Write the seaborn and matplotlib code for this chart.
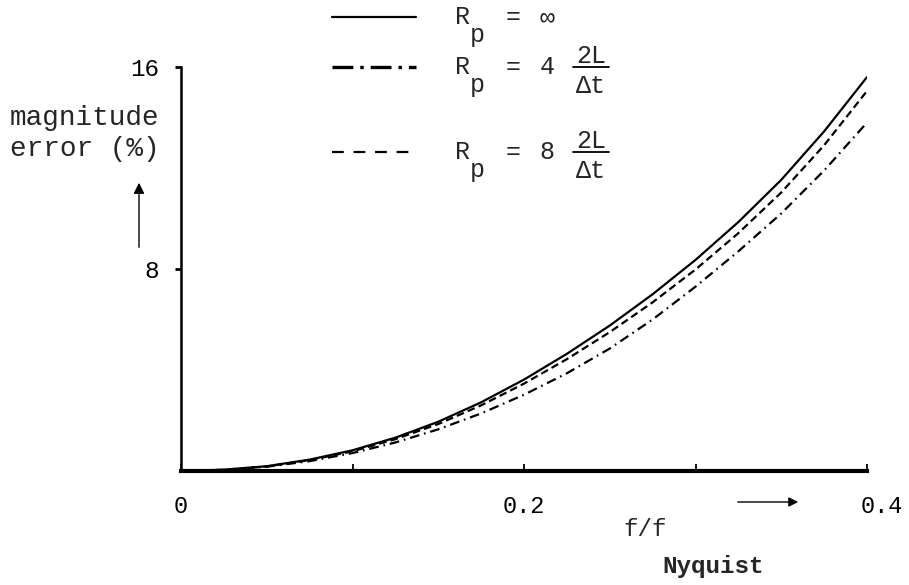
import numpy as np
import pandas as pd
import matplotlib
matplotlib.use("Agg")
import matplotlib.pyplot as plt
import matplotlib.transforms as mtransforms
from matplotlib.lines import Line2D
import seaborn as sns

# ---- data ----
freq = [0, 0.025, 0.05, 0.075, 0.1, 0.125, 0.15, 0.175, 0.2,
        0.225, 0.25, 0.275, 0.3, 0.325, 0.35, 0.375, 0.4]
err_inf = [0, 0.05, 0.19, 0.45, 0.82, 1.32, 1.95, 2.72, 3.62,
           4.64, 5.76, 7.0, 8.36, 9.86, 11.53, 13.45, 15.6]
err_8 = [0, 0.05, 0.18, 0.43, 0.78, 1.26, 1.86, 2.6, 3.46,
         4.43, 5.5, 6.68, 7.98, 9.42, 11.03, 12.9, 15.05]
err_4 = [0, 0.04, 0.17, 0.39, 0.71, 1.13, 1.65, 2.28, 3.02,
         3.87, 4.85, 6.0, 7.3, 8.7, 10.2, 11.9, 13.8]
series_keys = ["inf", "4", "8"]
x_ticks = [0, 0.2, 0.4]
x_tick_labels = ["0", "0.2", "0.4"]
x_minor = [0.1, 0.3]
y_ticks = [8, 16]
y_tick_labels = ["8", "16"]

sns.set_style("white")
plt.rcParams["font.family"] = ["Liberation Mono", "DejaVu Sans Mono", "DejaVu Sans"]
plt.rcParams["lines.scale_dashes"] = False

W, H = 909, 585
fig = plt.figure(figsize=(W / 100, H / 100), dpi=100)


def fx(px):
    return px / W


def fy(py):
    return 1 - py / H


ax = fig.add_axes([fx(181), fy(471), fx(867) - fx(181), fy(67) - fy(471)])

df = pd.concat([
    pd.DataFrame({"f": freq, "err": err_inf, "Rp": "inf"}),
    pd.DataFrame({"f": freq, "err": err_4, "Rp": "4"}),
    pd.DataFrame({"f": freq, "err": err_8, "Rp": "8"}),
], ignore_index=True)

sns.lineplot(data=df, x="f", y="err", style="Rp", style_order=series_keys,
             dashes={"inf": "", "4": (7, 3.5, 1.2, 3.5), "8": (5.5, 3)},
             color="black", lw=1.6, legend=False, ax=ax, errorbar=None)

ax.set_xlim(0, 0.4)
ax.set_ylim(0, 16)
for s in ["top", "right"]:
    ax.spines[s].set_visible(False)
ax.spines["left"].set_linewidth(1.8)
ax.spines["bottom"].set_linewidth(3)
ax.spines["left"].set_color("black")
ax.spines["bottom"].set_color("black")
ax.set_xlabel("")
ax.set_ylabel("")

ax.set_xticks(x_ticks, labels=x_tick_labels)
ax.set_xticks(x_minor, minor=True)
ax.tick_params(axis="x", which="both", direction="in", length=5, width=1.3,
               colors="black", labelsize=17, pad=17, bottom=True)
ax.set_yticks(y_ticks, labels=y_tick_labels)
ax.tick_params(axis="y", direction="out", length=4, width=2, colors="black",
               labelsize=17.5, pad=12, left=True)
ax.grid(False)

# nudge the last x label to the right as in the reference
for lab in ax.get_xticklabels():
    if lab.get_text() == "0.4":
        off = mtransforms.ScaledTranslation(15 / 100, 0, fig.dpi_scale_trans)
        lab.set_transform(lab.get_transform() + off)

# ---- y axis label + arrow ----
fig.text(fx(10), fy(118), "magnitude", ha="left", va="center", fontsize=20)
fig.text(fx(10), fy(149), "error (%)", ha="left", va="center", fontsize=20)
ax.annotate("", xy=(fx(139), fy(180)), xytext=(fx(139), fy(250)),
            xycoords="figure fraction", textcoords="figure fraction",
            arrowprops=dict(arrowstyle="-|>", lw=1, color="black",
                            mutation_scale=16))

# ---- x axis label + arrow ----
fig.text(fx(645), fy(530), "f/f", ha="center", va="center", fontsize=17.5)
fig.text(fx(713), fy(566), "Nyquist", ha="center", va="center", fontsize=17.5,
         fontweight="bold")
ax.annotate("", xy=(fx(801), fy(502)), xytext=(fx(735), fy(502)),
            xycoords="figure fraction", textcoords="figure fraction",
            arrowprops=dict(arrowstyle="-|>", lw=1, color="black",
                            mutation_scale=14))

# ---- legend (drawn by hand to keep the typewriter layout) ----
leg_rows = [
    dict(y=17, dashes=None, lw=1.6, value="∞", frac=False),
    dict(y=67, dashes=(15, 5, 2.5, 5), lw=2.4, value="4", frac=True),
    dict(y=152, dashes=(8.5, 7), lw=1.6, value="8", frac=True),
]
fs = 18
for row in leg_rows:
    y = row["y"]
    ln = Line2D([fx(332), fx(416)], [fy(y), fy(y)], transform=fig.transFigure,
                color="black", lw=row["lw"])
    if row["dashes"] is not None:
        ln.set_dashes(row["dashes"])
    fig.add_artist(ln)
    fig.text(fx(462), fy(y), "R", ha="center", va="center", fontsize=fs)
    fig.text(fx(477), fy(y + 18), "p", ha="center", va="center", fontsize=fs)
    fig.text(fx(513), fy(y), "=", ha="center", va="center", fontsize=fs)
    fig.text(fx(547), fy(y), row["value"], ha="center", va="center", fontsize=fs)
    if row["frac"]:
        fig.text(fx(591), fy(y - 11), "2L", ha="center", va="center", fontsize=fs)
        fig.add_artist(Line2D([fx(573), fx(609)], [fy(y), fy(y)],
                              transform=fig.transFigure, color="black", lw=1.3))
        fig.text(fx(591), fy(y + 19), "Δt", ha="center", va="center", fontsize=fs)

fig.savefig("out.png", dpi=100, facecolor="white")
